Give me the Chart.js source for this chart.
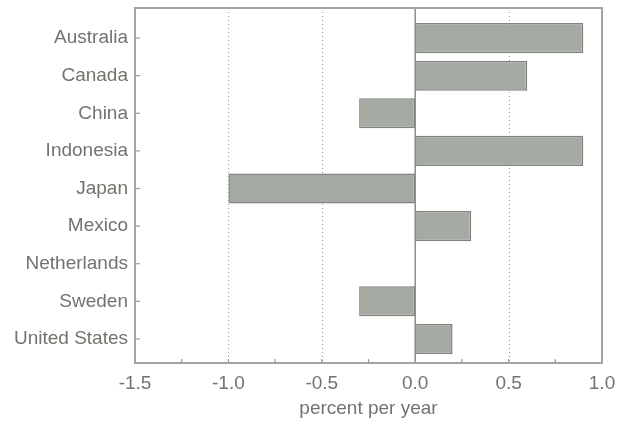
<!DOCTYPE html>
<html>
<head>
<meta charset="utf-8">
<script src="https://cdn.jsdelivr.net/npm/chart.js@4/dist/chart.umd.min.js"></script>
<style>
  html, body { margin: 0; padding: 0; background: #ffffff; }
  #wrap { width: 631px; height: 422px; position: relative; }
</style>
</head>
<body>
<div id="wrap"><canvas id="c" width="631" height="422"></canvas></div>
<script>
// Average growth, percent per year
const countries = ['Australia', 'Canada', 'China', 'Indonesia', 'Japan', 'Mexico', 'Netherlands', 'Sweden', 'United States'];
const growth = [0.9, 0.6, -0.3, 0.9, -1.0, 0.3, 0.0, -0.3, 0.2];
const xTicks = [-1.5, -1.0, -0.5, 0.0, 0.5, 1.0];
const dottedGrid = [-1.0, -0.5, 0.5];
const minorTicks = [-1.25, -1.0, -0.75, -0.5, -0.25, 0.25, 0.5, 0.75];
const axisTitle = 'percent per year';

const textColor = '#71746c';
const font = { family: '"Liberation Sans", Arial, Helvetica, sans-serif', size: 19 };

const framePlugin = {
  id: 'frame',
  beforeDatasetsDraw(chart) {
    const { ctx, chartArea: a, scales: { x } } = chart;
    ctx.save();
    ctx.strokeStyle = '#9a9a9a';
    ctx.lineWidth = 1;
    ctx.setLineDash([1, 3]);
    dottedGrid.forEach(v => {
      const px = Math.round(x.getPixelForValue(v)) + 0.5;
      ctx.beginPath();
      ctx.moveTo(px, a.top);
      ctx.lineTo(px, a.bottom);
      ctx.stroke();
    });
    ctx.setLineDash([]);
    ctx.strokeStyle = '#8c8e8a';
    ctx.lineWidth = 1.5;
    const zx = x.getPixelForValue(0);
    ctx.beginPath();
    ctx.moveTo(zx, a.top);
    ctx.lineTo(zx, a.bottom);
    ctx.stroke();
    ctx.restore();
  },
  afterDatasetsDraw(chart) {
    const { ctx, chartArea: a, scales: { x, y } } = chart;
    ctx.save();
    ctx.strokeStyle = '#a2a4a0';
    ctx.lineWidth = 2;
    ctx.strokeRect(a.left, a.top, a.right - a.left, a.bottom - a.top);
    ctx.lineWidth = 1.2;
    ctx.strokeStyle = '#9a9c98';
    countries.forEach((c, i) => {
      const py = y.getPixelForValue(i);
      ctx.beginPath();
      ctx.moveTo(a.left, py);
      ctx.lineTo(a.left + 5, py);
      ctx.stroke();
    });
    minorTicks.forEach(v => {
      const px = x.getPixelForValue(v);
      ctx.beginPath();
      ctx.moveTo(px, a.bottom);
      ctx.lineTo(px, a.bottom - 4);
      ctx.stroke();
    });
    ctx.restore();
  }
};

new Chart(document.getElementById('c'), {
  type: 'bar',
  data: {
    datasets: [{
      data: countries.map((c, i) => ({ x: growth[i], y: i })),
      backgroundColor: '#a5aaa2',
      borderColor: '#80847f',
      borderWidth: 1.5,
      borderSkipped: false,
      barPercentage: 0.8,
      categoryPercentage: 1.0
    }]
  },
  options: {
    indexAxis: 'y',
    responsive: false,
    animation: false,
    layout: { padding: { top: 8, right: 29, left: 0, bottom: 0 } },
    plugins: { legend: { display: false }, tooltip: { enabled: false } },
    scales: {
      y: {
        type: 'linear',
        reverse: true,
        offset: false,
        min: -0.8,
        max: 8.64,
        afterBuildTicks: s => { s.ticks = countries.map((c, i) => ({ value: i })); },
        afterFit: s => { s.width = 135; s.paddingTop = 0; s.paddingBottom = 0; },
        grid: { display: false, drawTicks: false, tickLength: 0 },
        border: { display: false },
        ticks: {
          callback: v => countries[v],
          color: textColor,
          font: font,
          padding: 7
        }
      },
      x: {
        type: 'linear',
        min: -1.5,
        max: 1.0,
        afterBuildTicks: s => { s.ticks = xTicks.map(v => ({ value: v })); },
        afterFit: s => { s.height = 59; s.paddingLeft = 0; s.paddingRight = 0; },
        grid: { display: false, drawTicks: false, tickLength: 0 },
        border: { display: false },
        ticks: {
          callback: v => v.toFixed(1),
          color: textColor,
          font: font,
          padding: 9,
          maxRotation: 0
        },
        title: {
          display: true,
          text: axisTitle,
          color: textColor,
          font: font,
          padding: { top: 0, bottom: 2 }
        }
      }
    }
  },
  plugins: [framePlugin]
});
</script>
</body>
</html>
